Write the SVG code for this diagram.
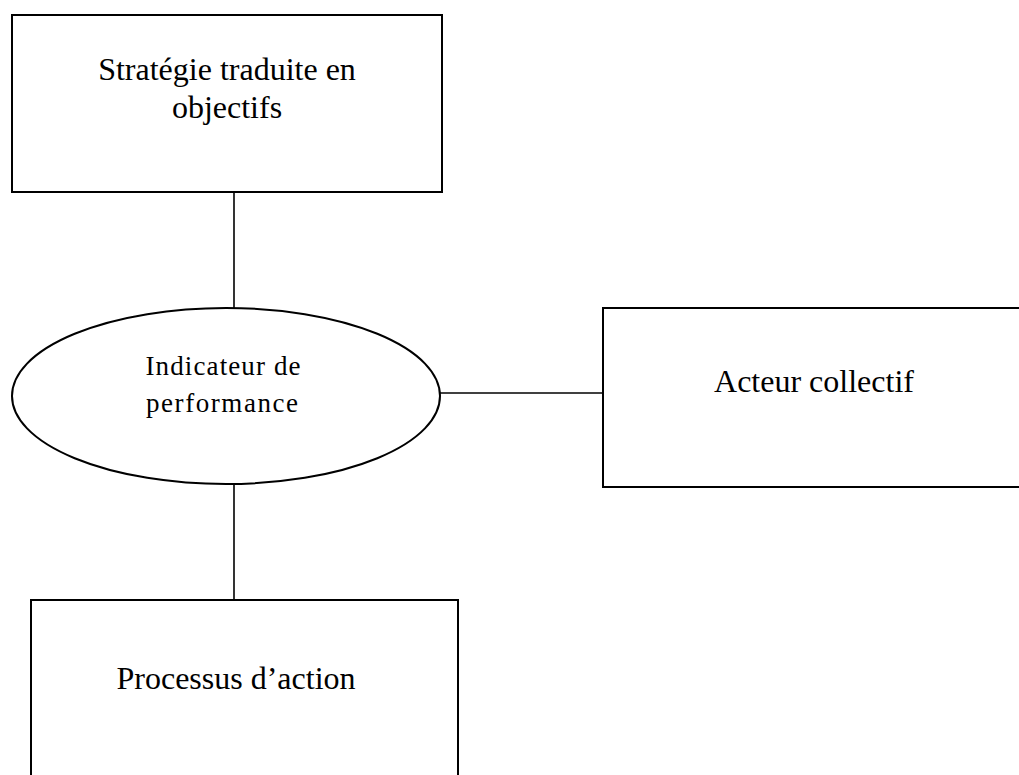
<svg xmlns="http://www.w3.org/2000/svg" width="1019" height="775" viewBox="0 0 1019 775">
  <style>
    .box { fill: #ffffff; stroke: #000000; stroke-width: 2; }
    .link { stroke: #000000; stroke-width: 1.6; fill: none; }
    .lbl { font-family: "Liberation Serif", "Times New Roman", serif; font-size: 32px; fill: #000000; text-anchor: middle; }
    .lbl-sm { font-family: "Liberation Serif", "Times New Roman", serif; font-size: 27px; fill: #000000; text-anchor: middle; }
  </style>
  <rect width="1019" height="775" fill="#ffffff"/>

  <!-- connectors between the central indicator and the three boxes -->
  <g id="connectors">
    <line class="link" x1="234" y1="192" x2="234" y2="308"/>
    <line class="link" x1="440" y1="393" x2="603" y2="393"/>
    <line class="link" x1="234" y1="484" x2="234" y2="600"/>
  </g>

  <g id="strategie">
    <rect class="box" x="12" y="15" width="430" height="177"/>
    <text class="lbl" x="227" y="80">Stratégie traduite en</text>
    <text class="lbl" x="227" y="118">objectifs</text>
  </g>

  <g id="indicateur">
    <ellipse class="box" cx="226" cy="396" rx="214" ry="88"/>
    <text class="lbl-sm" x="223" y="375" textLength="155" lengthAdjust="spacing">Indicateur de</text>
    <text class="lbl-sm" x="222" y="412" textLength="152" lengthAdjust="spacing">performance</text>
  </g>

  <g id="acteur">
    <rect class="box" x="603" y="308" width="420" height="179"/>
    <text class="lbl" x="814" y="392">Acteur collectif</text>
  </g>

  <g id="processus">
    <rect class="box" x="31" y="600" width="427" height="180"/>
    <text class="lbl" x="236" y="689">Processus d’action</text>
  </g>
</svg>
